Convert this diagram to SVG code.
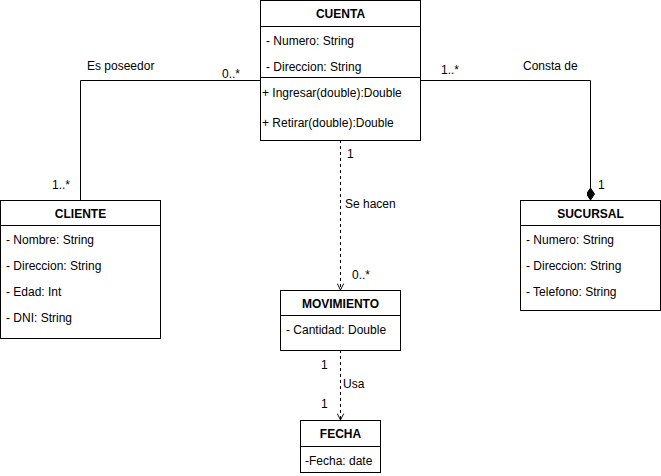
<svg xmlns="http://www.w3.org/2000/svg" width="661" height="476" viewBox="0 0 661 476">
<defs>
<style>
text{font-family:"Liberation Sans",Arial,Helvetica,sans-serif;font-size:12px;fill:#000}
.t{font-weight:bold;text-anchor:middle}
.box{fill:#fff;stroke:#000;stroke-width:1}
.ln{fill:none;stroke:#000;stroke-width:1}
.ds{fill:none;stroke:#000;stroke-width:1;stroke-dasharray:3,3}
.lbl{font-size:12px}
</style>
<marker id="open" viewBox="0 0 10 10" refX="9" refY="5" markerWidth="8" markerHeight="8" orient="auto" markerUnits="userSpaceOnUse">
<path d="M1,1 L9,5 L1,9" fill="none" stroke="#000" stroke-width="1.2"/>
</marker>
<marker id="dia" viewBox="0 0 12 8" refX="12" refY="4" markerWidth="12" markerHeight="8" orient="auto" markerUnits="userSpaceOnUse">
<path d="M0,4 L6,0 L12,4 L6,8 Z" fill="#000" stroke="#000"/>
</marker>
</defs>
<g id="connectors">
<path class="ln" d="M260.5,80.5 H80.5 V200"/>
<path class="ln" d="M420.5,80.5 H590.5 V200" marker-end="url(#dia)"/>
<path class="ds" d="M340.5,140 V290" marker-end="url(#open)"/>
<path class="ds" d="M340.5,350 V420" marker-end="url(#open)"/>
<text class="lbl" x="87" y="70">Es poseedor</text>
<text class="lbl" x="222" y="78">0..*</text>
<text class="lbl" x="52" y="189">1..*</text>
<text class="lbl" x="441" y="74">1..*</text>
<text class="lbl" x="523" y="70">Consta de</text>
<text class="lbl" x="598" y="189">1</text>
<text class="lbl" x="347" y="158">1</text>
<text class="lbl" x="345" y="208">Se hacen</text>
<text class="lbl" x="352" y="279">0..*</text>
<text class="lbl" x="321" y="369">1</text>
<text class="lbl" x="343" y="388">Usa</text>
<text class="lbl" x="321" y="408">1</text>
</g>
<g id="cuenta">
<rect class="box" x="260.5" y="0.5" width="160" height="140"/>
<line class="ln" x1="260.5" y1="26.5" x2="420.5" y2="26.5"/>
<line class="ln" x1="260.5" y1="77.5" x2="420.5" y2="77.5"/>
<text class="t" x="340.5" y="18">CUENTA</text>
<text x="266" y="45">- Numero: String</text>
<text x="266" y="71">- Direccion: String</text>
<text x="262" y="97">+ Ingresar(double):Double</text>
<text x="262" y="127">+ Retirar(double):Double</text>
</g>
<g id="cliente">
<rect class="box" x="0.5" y="200.5" width="160" height="138"/>
<line class="ln" x1="0.5" y1="225.5" x2="160.5" y2="225.5"/>
<text class="t" x="80.5" y="218">CLIENTE</text>
<text x="6" y="244">- Nombre: String</text>
<text x="6" y="270">- Direccion: String</text>
<text x="6" y="296">- Edad: Int</text>
<text x="6" y="322">- DNI: String</text>
</g>
<g id="sucursal">
<rect class="box" x="520.5" y="200.5" width="140" height="110"/>
<line class="ln" x1="520.5" y1="225.5" x2="660.5" y2="225.5"/>
<text class="t" x="590.5" y="218">SUCURSAL</text>
<text x="526" y="244">- Numero: String</text>
<text x="526" y="270">- Direccion: String</text>
<text x="526" y="296">- Telefono: String</text>
</g>
<g id="movimiento">
<rect class="box" x="280.5" y="290.5" width="120" height="60"/>
<line class="ln" x1="280.5" y1="315.5" x2="400.5" y2="315.5"/>
<text class="t" x="340.5" y="308">MOVIMIENTO</text>
<text x="286" y="334">- Cantidad: Double</text>
</g>
<g id="fecha">
<rect class="box" x="300.5" y="420.5" width="80" height="52"/>
<line class="ln" x1="300.5" y1="446.5" x2="380.5" y2="446.5"/>
<text class="t" x="340.5" y="438">FECHA</text>
<text x="305" y="465">-Fecha: date</text>
</g>
</svg>
